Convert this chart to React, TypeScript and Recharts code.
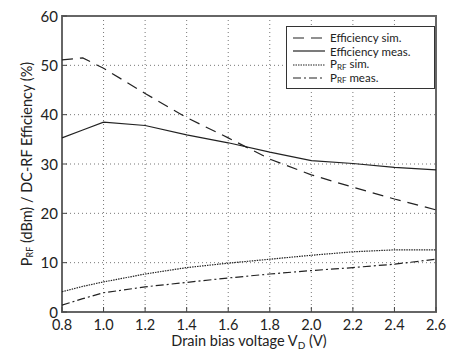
import React from "react";
import {
  LineChart,
  Line,
  XAxis,
  YAxis,
  CartesianGrid,
  ReferenceArea,
  Label,
} from "recharts";

const voltages = [0.8, 0.9, 1.0, 1.2, 1.4, 1.6, 1.8, 2.0, 2.2, 2.4, 2.6];
const effSim = [51.1, 51.5, 49.4, 44.3, 39.4, 35.3, 31.0, 27.8, 25.3, 22.9, 20.7];
const effMeas = [35.3, 36.9, 38.5, 37.8, 35.9, 34.3, 32.4, 30.7, 30.1, 29.3, 28.8];
const prfSim = [4.1, 5.2, 6.1, 7.7, 9.0, 9.9, 10.7, 11.5, 12.2, 12.6, 12.6];
const prfMeas = [1.4, 2.7, 3.9, 5.1, 6.0, 6.9, 7.7, 8.4, 9.0, 9.7, 10.7];

const xTicks = [0.8, 1.0, 1.2, 1.4, 1.6, 1.8, 2.0, 2.2, 2.4, 2.6];
const yTicks = [0, 10, 20, 30, 40, 50, 60];

const data = voltages.map((v, i) => ({
  v,
  effSim: effSim[i],
  effMeas: effMeas[i],
  prfSim: prfSim[i],
  prfMeas: prfMeas[i],
}));

const FONT = "Lato, 'Open Sans', sans-serif";
const INK = "#222";

const series = [
  { key: "effSim", label: "Efficiency sim.", dash: "11 7", sub: false },
  { key: "effMeas", label: "Efficiency meas.", dash: undefined, sub: false },
  { key: "prfSim", label: "sim.", dash: "1.5 1", sub: true },
  { key: "prfMeas", label: "meas.", dash: "8 3 2 3", sub: true },
];

const XTick = (props: any) => {
  const { x, y, payload } = props;
  return (
    <g>
      <line x1={x} x2={x} y1={y - 4} y2={y - 9} stroke="#444" strokeWidth={1} />
      <text x={x} y={y + 13.5} textAnchor="middle" fontSize={14.5} fontFamily={FONT} fill={INK}>
        {payload.value.toFixed(1)}
      </text>
    </g>
  );
};

const YTick = (props: any) => {
  const { x, y, payload } = props;
  return (
    <g>
      <line x1={x + 4} x2={x + 9} y1={y} y2={y} stroke="#444" strokeWidth={1} />
      <text x={x} y={y + 5.5} textAnchor="end" fontSize={15} fontFamily={FONT} fill={INK}>
        {payload.value}
      </text>
    </g>
  );
};

const YLabel = (props: any) => {
  const { viewBox } = props;
  const cx = 26;
  const cy = viewBox.y + viewBox.height / 2;
  return (
    <text
      x={cx}
      y={cy}
      transform={`rotate(-90 ${cx} ${cy})`}
      textAnchor="middle"
      dominantBaseline="central"
      fontSize={14.5}
      fontFamily={FONT}
      fill={INK}
    >
      P
      <tspan fontSize={9} dy={3}>RF</tspan>
      <tspan dy={-3}> (dBm) / DC-RF Efficiency (%)</tspan>
    </text>
  );
};

const XLabel = (props: any) => {
  const { viewBox } = props;
  const cx = viewBox.x + viewBox.width / 2;
  return (
    <text x={cx} y={346} textAnchor="middle" fontSize={14.5} fontFamily={FONT} fill={INK}>
      Drain bias voltage V
      <tspan fontSize={10} dy={3}>D</tspan>
      <tspan dy={-3}> (V)</tspan>
    </text>
  );
};

const LegendBox = () => (
  <div
    style={{
      position: "absolute",
      left: 286,
      top: 26,
      border: "1.5px solid #333",
      background: "#fff",
      width: 149,
      height: 63,
      boxSizing: "border-box",
      padding: "4px 0 0 6px",
      fontFamily: FONT,
      fontSize: 11.5,
      color: INK,
      lineHeight: "13px",
    }}
  >
    {series.map((s) => (
      <div key={s.key} style={{ display: "flex", alignItems: "center", height: 13.5 }}>
        <svg width={32} height={6} style={{ marginRight: 5, flex: "none" }}>
          <line x1={0} x2={32} y1={3} y2={3} stroke={INK} strokeWidth={1.2} strokeDasharray={s.dash} />
        </svg>
        <span style={{ whiteSpace: "nowrap" }}>
          {s.sub ? (
            <>
              P<span style={{ fontSize: 8, position: "relative", top: 1.5 }}>RF</span>{" "}
            </>
          ) : null}
          {s.label}
        </span>
      </div>
    ))}
  </div>
);

export default function App() {
  return (
    <div style={{ position: "absolute", left: 0, top: 0, width: 451, height: 354, background: "#fff" }}>
      <LineChart width={451} height={354} data={data} margin={{ top: 16, right: 15, bottom: 0, left: 0 }}>
        <CartesianGrid stroke="#777" strokeDasharray="1 3" strokeWidth={1} />
        <XAxis
          dataKey="v"
          type="number"
          domain={[0.8, 2.6]}
          ticks={xTicks}
          height={42}
          tickLine={false}
          axisLine={false}
          tickSize={0}
          tickMargin={4}
          tick={<XTick />}
          interval={0}
        >
          <Label content={<XLabel />} />
        </XAxis>
        <YAxis
          type="number"
          domain={[0, 60]}
          ticks={yTicks}
          width={62}
          tickLine={false}
          axisLine={false}
          tickSize={0}
          tickMargin={4}
          tick={<YTick />}
          interval={0}
        >
          <Label content={<YLabel />} />
        </YAxis>
        <ReferenceArea x1={0.8} x2={2.6} y1={0} y2={60} fill="none" stroke="#666" strokeWidth={2} ifOverflow="visible" />
        {series.map((s) => (
          <Line
            key={s.key}
            dataKey={s.key}
            type="linear"
            stroke={INK}
            strokeWidth={1.2}
            strokeDasharray={s.dash}
            dot={false}
            isAnimationActive={false}
          />
        ))}
      </LineChart>
      <LegendBox />
    </div>
  );
}
